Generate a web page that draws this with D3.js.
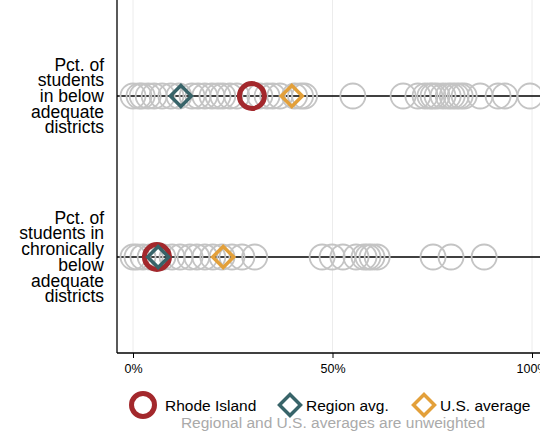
<!DOCTYPE html>
<html>
<head>
<meta charset="utf-8">
<script src="https://cdn.jsdelivr.net/npm/d3@7"></script>
<style>
  body { margin: 0; background: #fff; }
  svg { font-family: "Liberation Sans", Arial, sans-serif; display: block; }
</style>
</head>
<body>
<div id="chart"></div>
<script>
// rows of the chart
const rowLabels = [
  ['Pct. of', 'students', 'in below', 'adequate', 'districts'],
  ['Pct. of', 'students in', 'chronically', 'below', 'adequate', 'districts']
];

// every district's share, one list per row (percent)
const districtsBelow = [0, 1.5, 2.3, 3.8, 5.3, 7.3, 9.5, 11.5, 14.8, 16.3, 18, 19.8, 21.3, 22.5,
  24.3, 26, 29.8, 31.8, 33.6, 35, 36.8, 40.5, 42, 43,
  55.1, 67.7, 71.4, 73.2, 74.4, 75.2, 76.2, 77.7, 79, 80, 81, 82, 83, 87, 91.5, 93.2, 99.5];
const districtsChronic = [0, 1, 2.5, 4.3, 6, 7.5, 9.8, 11.8, 14.3, 16, 18, 20, 22.3, 24.8, 27.3, 30.5,
  47.4, 49.9, 52.6, 55.9, 57.9, 58.9, 59.9, 61.2, 75.2, 79.7, 88];

const rhodeIsland = [29.8, 6];
const regionAvg = [12, 6.3];
const usAverage = [39.8, 22.6];

const xTicks = [0, 50, 100];

const width = 540;
const height = 441;
const red = '#a3282c';
const teal = '#386469';
const orange = '#e3a03a';
const grey = '#c4c4c4';

const x = d3.scaleLinear().domain([0, 100]).range([133, 532]);
const y = d3.scalePoint().domain([0, 1]).range([96, 257]);
const plot = { left: 117, top: 0, bottom: 353, right: width };

const svg = d3.select('#chart').append('svg')
  .attr('width', width)
  .attr('height', height);

// gridlines
svg.append('g')
  .selectAll('line')
  .data(xTicks)
  .join('line')
  .attr('x1', d => x(d)).attr('x2', d => x(d))
  .attr('y1', plot.top).attr('y2', plot.bottom)
  .attr('stroke', '#ececec')
  .attr('stroke-width', 1);

// row lines
svg.append('g')
  .selectAll('line')
  .data([0, 1])
  .join('line')
  .attr('x1', plot.left).attr('x2', plot.right)
  .attr('y1', d => y(d)).attr('y2', d => y(d))
  .attr('stroke', '#000')
  .attr('stroke-width', 1.3);

// x axis
svg.append('g')
  .attr('transform', `translate(0,${plot.bottom})`)
  .call(d3.axisBottom(x).tickValues(xTicks).tickSize(5).tickPadding(6).tickFormat(d => d + '%'))
  .call(g => g.select('.domain').remove())
  .call(g => g.selectAll('.tick text').attr('font-size', 12.5).attr('fill', '#000')
    .attr('font-family', '"Liberation Sans", Arial, sans-serif'));

svg.append('line')
  .attr('x1', plot.left).attr('x2', plot.right)
  .attr('y1', plot.bottom).attr('y2', plot.bottom)
  .attr('stroke', '#000').attr('stroke-width', 1.3);

svg.append('line')
  .attr('x1', plot.left).attr('x2', plot.left)
  .attr('y1', plot.top).attr('y2', plot.bottom)
  .attr('stroke', '#000').attr('stroke-width', 1.3);

// row labels
rowLabels.forEach((lines, i) => {
  const lh = 15.7;
  const top = y(i) - (lines.length - 1) * lh / 2 + 6;
  svg.append('text')
    .attr('text-anchor', 'end')
    .attr('font-size', 17.5)
    .selectAll('tspan')
    .data(lines)
    .join('tspan')
    .attr('x', 104)
    .attr('y', (d, j) => top + j * lh)
    .text(d => d);
});

// districts
[districtsBelow, districtsChronic].forEach((vals, i) => {
  svg.append('g')
    .selectAll('circle')
    .data(vals)
    .join('circle')
    .attr('cx', d => x(d))
    .attr('cy', y(i))
    .attr('r', 12.5)
    .attr('fill', 'none')
    .attr('stroke', grey)
    .attr('stroke-width', 1.8);
});

const diamond = d3.symbol().type(d3.symbolSquare).size(220);

function drawMarkers(vals, kind) {
  const g = svg.append('g');
  vals.forEach((v, i) => {
    if (kind === 'ri') {
      g.append('circle')
        .attr('cx', x(v)).attr('cy', y(i)).attr('r', 12.5)
        .attr('fill', 'none').attr('stroke', red).attr('stroke-width', 5);
    } else {
      g.append('path')
        .attr('d', diamond())
        .attr('transform', `translate(${x(v)},${y(i)}) rotate(45)`)
        .attr('fill', 'none')
        .attr('stroke', kind === 'region' ? teal : orange)
        .attr('stroke-width', 3.5);
    }
  });
}

drawMarkers(rhodeIsland, 'ri');
drawMarkers(usAverage, 'us');
drawMarkers(regionAvg, 'region');

// legend
const legend = svg.append('g').attr('transform', 'translate(0,405)');
legend.append('circle')
  .attr('cx', 143).attr('cy', 0).attr('r', 11.5)
  .attr('fill', 'none').attr('stroke', red).attr('stroke-width', 5);
legend.append('text').attr('x', 165).attr('y', 6).attr('font-size', 15.5).text('Rhode Island');
legend.append('path').attr('d', diamond())
  .attr('transform', 'translate(290,0) rotate(45)')
  .attr('fill', 'none').attr('stroke', teal).attr('stroke-width', 3.5);
legend.append('text').attr('x', 306).attr('y', 6).attr('font-size', 15.5).text('Region avg.');
legend.append('path').attr('d', diamond())
  .attr('transform', 'translate(424,0) rotate(45)')
  .attr('fill', 'none').attr('stroke', orange).attr('stroke-width', 3.5);
legend.append('text').attr('x', 440).attr('y', 6).attr('font-size', 15.5).text('U.S. average');

svg.append('text')
  .attr('x', 333).attr('y', 428)
  .attr('text-anchor', 'middle')
  .attr('font-size', 15.5)
  .attr('fill', '#aaaaaa')
  .text('Regional and U.S. averages are unweighted');
</script>
</body>
</html>
